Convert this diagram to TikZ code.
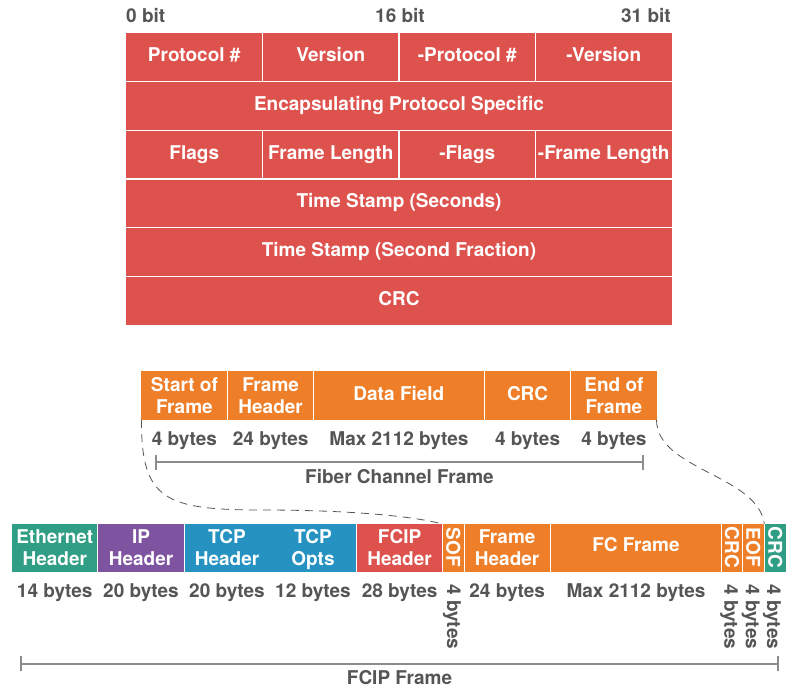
\documentclass[tikz,border=0pt]{standalone}
\usepackage{fontspec}
\setmainfont{TeX Gyre Heros}
\definecolor{cred}{HTML}{DE524D}
\definecolor{corange}{HTML}{EE7E28}
\definecolor{cteal}{HTML}{309E84}
\definecolor{cpurple}{HTML}{7E54A0}
\definecolor{cblue}{HTML}{2592C2}
\definecolor{txtgray}{HTML}{555555}
\definecolor{brkgray}{HTML}{8C8C8C}
\definecolor{dashgray}{HTML}{555555}
\begin{document}
\begin{tikzpicture}[x=1pt,y=-1pt,
  every node/.style={inner sep=0pt, font=\fontsize{19}{22}\selectfont\bfseries},
  wl/.style={text=white, anchor=base},
  gl/.style={text=txtgray, anchor=base},
  rl/.style={text=white, rotate=-90, anchor=center},
  rb/.style={text=txtgray, rotate=-90, anchor=base west},
  sepline/.style={draw=white, line width=1.2pt},
  brk/.style={draw=brkgray, line width=1.5pt},
  fold/.style={draw=dashgray, line width=0.8pt, dash pattern=on 8pt off 6pt}]
\useasboundingbox (0,0) rectangle (791,690);

% ---------- header bits
\node[gl, anchor=base west] (b0) at (126,23) {0 bit};
\node[gl] (b16) at (400,23) {16 bit};
\node[gl, anchor=base east] (b31) at (671,23) {31 bit};

% ---------- top table
\fill[cred] (126,33) rectangle (672,325);
\foreach \yy in {81.7,130.3,179,227.7,276.3} \draw[sepline] (126,\yy) -- (672,\yy);
\foreach \xx in {262.5,399,535.5} {
  \draw[sepline] (\xx,33) -- (\xx,81.7);
  \draw[sepline] (\xx,130.3) -- (\xx,179);
}
\node[wl] (t1) at (194.25,61.6) {Protocol \#};
\node[wl] (t2) at (330.75,61.6) {Version};
\node[wl] (t3) at (467.25,61.6) {-Protocol \#};
\node[wl] (t4) at (603.75,61.6) {-Version};
\node[wl] (t5) at (399,110.6) {Encapsulating Protocol Specific};
\node[wl] (t6) at (194.25,159.1) {Flags};
\node[wl] (t7) at (330.75,159.1) {Frame Length};
\node[wl] (t8) at (467.25,159.1) {-Flags};
\node[wl] (t9) at (603.75,159.1) {-Frame Length};
\node[wl] (t10) at (399,207.6) {Time Stamp (Seconds)};
\node[wl] (t11) at (399,256.6) {Time Stamp (Second Fraction)};
\node[wl] (t12) at (399,305.1) {CRC};

% ---------- fibre channel frame
\fill[corange] (141,371) rectangle (657,420);
\foreach \xx in {227.8,313.5,484.3,570.8} \draw[sepline] (\xx,371) -- (\xx,420);
\coordinate (fcbl) at (141.5,420);
\coordinate (fcbr) at (656.5,420);
\node[wl] (f1a) at (184.4,391) {Start of};
\node[wl] (f1b) at (184.4,413) {Frame};
\node[wl] (f2a) at (270.65,391) {Frame};
\node[wl] (f2b) at (270.65,413) {Header};
\node[wl] (f3) at (398.9,400.6) {Data Field};
\node[wl] (f4) at (527.55,400.6) {CRC};
\node[wl] (f5a) at (613.9,391) {End of};
\node[wl] (f5b) at (613.9,413) {Frame};
\node[gl] (g1) at (184.4,445) {4 bytes};
\node[gl] (g2) at (270.65,445) {24 bytes};
\node[gl] (g3) at (398.9,445) {Max 2112 bytes};
\node[gl] (g4) at (527.55,445) {4 bytes};
\node[gl] (g5) at (613.9,445) {4 bytes};
\coordinate (fbl) at (156,462);
\coordinate (fbr) at (643,462);
\draw[brk] (fbl) -- (fbr);
\draw[brk] ([yshift=-8pt]fbl) -- ([yshift=7pt]fbl);
\draw[brk] ([yshift=-8pt]fbr) -- ([yshift=7pt]fbr);
\node[gl] (fcname) at (399.5,483.3) {Fiber Channel Frame};

% ---------- FCIP frame
\fill[cteal] (12,524) rectangle (97.5,572);
\fill[cpurple] (97.5,524) rectangle (184.5,572);
\fill[cblue] (184.5,524) rectangle (356.5,572);
\fill[cred] (356.5,524) rectangle (442.7,572);
\fill[corange] (442.7,524) rectangle (764.3,572);
\fill[cteal] (764.3,524) rectangle (786,572);
\foreach \xx in {97.5,184.5,356.5,442.7,464,550.3,721.7,742.5,764.3}
  \draw[draw=white, line width=1pt] (\xx,524) -- (\xx,572);
\coordinate (softl) at (442.7,524);
\coordinate (crctl) at (764.3,524);

\node[wl] (e1a) at (54.75,543.3) {Ethernet};
\node[wl] (e1b) at (54.75,565) {Header};
\node[wl] (e2a) at (141,543.3) {IP};
\node[wl] (e2b) at (141,565) {Header};
\node[wl] (e3a) at (227,543.3) {TCP};
\node[wl] (e3b) at (227,565) {Header};
\node[wl] (e4a) at (313,543.3) {TCP};
\node[wl] (e4b) at (313,565) {Opts};
\node[wl] (e5a) at (399.6,543.3) {FCIP};
\node[wl] (e5b) at (399.6,565) {Header};
\node[rl] (e6) at (453.4,547.5) {SOF};
\node[wl] (e7a) at (507.15,543.3) {Frame};
\node[wl] (e7b) at (507.15,565) {Header};
\node[wl] (e8) at (636,551) {FC Frame};
\node[rl] (e9) at (732.1,547.5) {CRC};
\node[rl] (e10) at (753.4,547.5) {EOF};
\node[rl] (e11) at (775.2,547.5) {CRC};

\node[gl] (h1) at (54.75,597.5) {14 bytes};
\node[gl] (h2) at (141,597.5) {20 bytes};
\node[gl] (h3) at (227,597.5) {20 bytes};
\node[gl] (h4) at (313,597.5) {12 bytes};
\node[gl] (h5) at (399.6,597.5) {28 bytes};
\node[rb] (h6) at (447.2,584) {4 bytes};
\node[gl] (h7) at (507.15,597.5) {24 bytes};
\node[gl] (h8) at (636,597.5) {Max 2112 bytes};
\node[rb] (h9) at (724.4,584) {4 bytes};
\node[rb] (h10) at (745.8,584) {4 bytes};
\node[rb] (h11) at (767.2,584) {4 bytes};

\coordinate (pbl) at (21,664);
\coordinate (pbr) at (778,664);
\draw[brk] (pbl) -- (pbr);
\draw[brk] ([yshift=-7pt]pbl) -- ([yshift=8pt]pbl);
\draw[brk] ([yshift=-7pt]pbr) -- ([yshift=8pt]pbr);
\node[gl] (fcipname) at (399.5,684.6) {FCIP Frame};

% ---------- dashed fold lines
\draw[fold] (fcbl) .. controls (141,500) and (165,510) .. (263,510)
                   .. controls (320,510) and (400,513) .. (softl);
\draw[fold] (fcbr) .. controls (657,470) and (758,475) .. (crctl);
\end{tikzpicture}
\end{document}
